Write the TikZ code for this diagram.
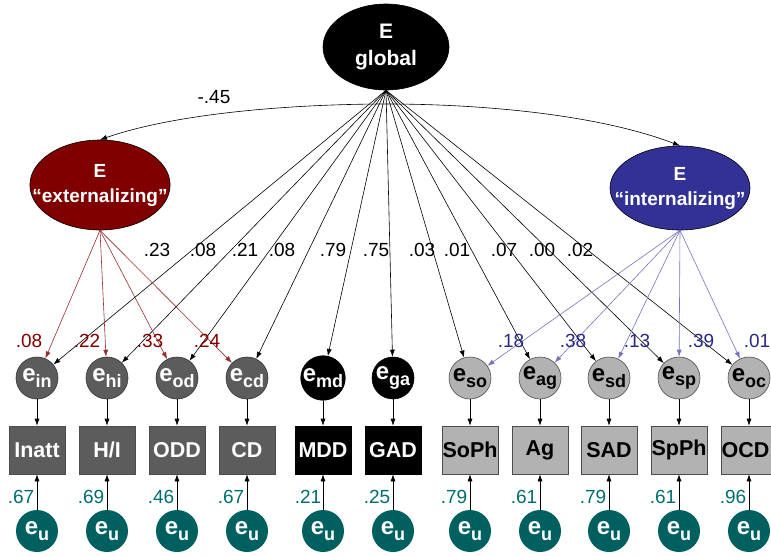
\documentclass[tikz,border=0pt]{standalone}
\usepackage{fontspec}
\setmainfont{Liberation Sans}
\usetikzlibrary{arrows.meta,shapes.geometric}

\definecolor{extred}{RGB}{128,0,0}
\definecolor{extline}{RGB}{150,45,45}
\definecolor{intblue}{RGB}{50,50,150}
\definecolor{intline}{RGB}{115,115,190}
\definecolor{intlbl}{RGB}{40,40,130}
\definecolor{dgray}{RGB}{92,92,92}
\definecolor{lgray}{RGB}{178,178,178}
\definecolor{tealu}{RGB}{0,96,96}
\definecolor{teallbl}{RGB}{0,110,110}

\newcommand{\errsub}[1]{\fontsize{24}{24}\selectfont\bfseries e\raisebox{-6pt}{\fontsize{18}{18}\selectfont #1}}

\begin{document}
\begin{tikzpicture}[x=1pt,y=-1pt,
    lat/.style={ellipse,draw=black,line width=0.6pt,text=white,align=center,inner sep=0pt},
    res/.style={circle,minimum size=42pt,inner sep=0pt,line width=0.6pt},
    ind/.style={rectangle,minimum width=56pt,minimum height=48pt,inner sep=0pt,line width=0.6pt,font=\fontsize{21.5}{21.5}\selectfont\bfseries},
    uniq/.style={circle,fill=tealu,minimum size=42pt,inner sep=0pt,text=white},
    arr/.style={-{Latex[length=7pt,width=5pt]},line width=0.6pt},
    lbl/.style={font=\fontsize{19}{19}\selectfont,inner sep=0pt}]
        \useasboundingbox (0,0) rectangle (771,555);

        % Fattori
        \node[lat,fill=black,minimum width=126pt,minimum height=86pt,font=\fontsize{21}{27}\selectfont\bfseries] (glob) at (386,47) {E\\global};
        \node[lat,fill=extred,minimum width=140pt,minimum height=90pt,inner xsep=-18pt,font=\fontsize{19}{25}\selectfont\bfseries] (ext) at (100,185) {E\\“externalizing”};
        \node[lat,fill=intblue,minimum width=140pt,minimum height=84pt,inner xsep=-18pt,font=\fontsize{19}{25}\selectfont\bfseries] (int) at (680,188) {E\\“internalizing”};

        % Residui
        \node[res,fill=dgray,draw=black!80,text=white] (ein) at (37,378) {\errsub{in}};
        \node[res,fill=dgray,draw=black!80,text=white] (ehi) at (107,378) {\errsub{hi}};
        \node[res,fill=dgray,draw=black!80,text=white] (eod) at (177,378) {\errsub{od}};
        \node[res,fill=dgray,draw=black!80,text=white] (ecd) at (247,378) {\errsub{cd}};
        \node[res,fill=black,draw=black,text=white] (emd) at (323,378) {\errsub{md}};
        \node[res,fill=black,draw=black,text=white] (ega) at (393,378) {\errsub{ga}};
        \node[res,fill=lgray,draw=black!70,text=black] (eso) at (470,378) {\errsub{so}};
        \node[res,fill=lgray,draw=black!70,text=black] (eag) at (540,378) {\errsub{ag}};
        \node[res,fill=lgray,draw=black!70,text=black] (esd) at (609,378) {\errsub{sd}};
        \node[res,fill=lgray,draw=black!70,text=black] (esp) at (679,378) {\errsub{sp}};
        \node[res,fill=lgray,draw=black!70,text=black] (eoc) at (749,378) {\errsub{oc}};

        % Indicatori
        \node[ind,fill=dgray,draw=black!70,text=white] (binatt) at (37,450) {Inatt};
        \node[ind,fill=dgray,draw=black!70,text=white] (bhi) at (107,450) {H/I};
        \node[ind,fill=dgray,draw=black!70,text=white] (bodd) at (177,450) {ODD};
        \node[ind,fill=dgray,draw=black!70,text=white] (bcd) at (247,450) {CD};
        \node[ind,fill=black,draw=black,text=white] (bmdd) at (323,450) {MDD};
        \node[ind,fill=black,draw=black,text=white] (bgad) at (393,450) {GAD};
        \node[ind,fill=lgray,draw=black!70,text=black] (bsoph) at (470,450) {SoPh};
        \node[ind,fill=lgray,draw=black!70,text=black] (bag) at (540,450) {Ag};
        \node[ind,fill=lgray,draw=black!70,text=black] (bsad) at (609,450) {SAD};
        \node[ind,fill=lgray,draw=black!70,text=black] (bspph) at (679,450) {SpPh};
        \node[ind,fill=lgray,draw=black!70,text=black] (bocd) at (749,450) {\hspace*{-7pt}OCD};

        % Unicita
        \node[uniq] (uinatt) at (37,531) {\errsub{u}};
        \node[uniq] (uhi) at (107,531) {\errsub{u}};
        \node[uniq] (uodd) at (177,531) {\errsub{u}};
        \node[uniq] (ucd) at (247,531) {\errsub{u}};
        \node[uniq] (umdd) at (323,531) {\errsub{u}};
        \node[uniq] (ugad) at (393,531) {\errsub{u}};
        \node[uniq] (usoph) at (470,531) {\errsub{u}};
        \node[uniq] (uag) at (540,531) {\errsub{u}};
        \node[uniq] (usad) at (609,531) {\errsub{u}};
        \node[uniq] (uspph) at (679,531) {\errsub{u}};
        \node[uniq] (uocd) at (749,531) {\errsub{u}};

        % Covarianza
        \coordinate (cov) at (387,104);
        \draw[arr] (cov) .. controls (300,104) and (180,112) .. (ext.north);
        \draw[arr] (cov) .. controls (474,104) and (594,113) .. (int.north);
        \node[lbl] (lcov) at (214,97) {-.45};

        % Carichi globali
        \draw[arr] (glob.south) -- (ein);
        \draw[arr] (glob.south) -- (ehi);
        \draw[arr] (glob.south) -- (eod);
        \draw[arr] (glob.south) -- (ecd);
        \draw[arr] (glob.south) -- (emd);
        \draw[arr] (glob.south) -- (ega);
        \draw[arr] (glob.south) -- (eso);
        \draw[arr] (glob.south) -- (eag);
        \draw[arr] (glob.south) -- (esd);
        \draw[arr] (glob.south) -- (esp);
        \draw[arr] (glob.south) -- (eoc);
        \node[lbl] (gin) at (157,250) {.23};
        \node[lbl] (ghi) at (203,250) {.08};
        \node[lbl] (god) at (245,250) {.21};
        \node[lbl] (gcd) at (282,250) {.08};
        \node[lbl] (gmd) at (333,250) {.79};
        \node[lbl] (gga) at (376,250) {.75};
        \node[lbl] (gso) at (422,250) {.03};
        \node[lbl] (gag) at (457,250) {.01};
        \node[lbl] (gsd) at (504,250) {.07};
        \node[lbl] (gsp) at (542,250) {.00};
        \node[lbl] (goc) at (580,250) {.02};

        % Carichi externalizing
        \draw[arr,extline] (ext.south) -- (ein);
        \draw[arr,extline] (ext.south) -- (ehi);
        \draw[arr,extline] (ext.south) -- (eod);
        \draw[arr,extline] (ext.south) -- (ecd);
        \node[lbl,text=extred] (xin) at (29,341) {.08};
        \node[lbl,text=extred] (xhi) at (87,341) {.22};
        \node[lbl,text=extred] (xod) at (150,341) {.33};
        \node[lbl,text=extred] (xcd) at (207,341) {.24};

        % Carichi internalizing
        \draw[arr,intline] (int.south) -- (eso);
        \draw[arr,intline] (int.south) -- (eag);
        \draw[arr,intline] (int.south) -- (esd);
        \draw[arr,intline] (int.south) -- (esp);
        \draw[arr,intline] (int.south) -- (eoc);
        \node[lbl,text=intlbl] (iso) at (511,341) {.18};
        \node[lbl,text=intlbl] (iag) at (573,341) {.38};
        \node[lbl,text=intlbl] (isd) at (637,341) {.13};
        \node[lbl,text=intlbl] (isp) at (701,341) {.39};
        \node[lbl,text=intlbl] (ioc) at (757,341) {.01};

        % Residui -> indicatori
        \draw[arr] (ein) -- (binatt);
        \draw[arr] (ehi) -- (bhi);
        \draw[arr] (eod) -- (bodd);
        \draw[arr] (ecd) -- (bcd);
        \draw[arr] (emd) -- (bmdd);
        \draw[arr] (ega) -- (bgad);
        \draw[arr] (eso) -- (bsoph);
        \draw[arr] (eag) -- (bag);
        \draw[arr] (esd) -- (bsad);
        \draw[arr] (esp) -- (bspph);
        \draw[arr] (eoc) -- (bocd);

        % Unicita -> indicatori
        \draw[arr] (uinatt) -- (binatt);
        \draw[arr] (uhi) -- (bhi);
        \draw[arr] (uodd) -- (bodd);
        \draw[arr] (ucd) -- (bcd);
        \draw[arr] (umdd) -- (bmdd);
        \draw[arr] (ugad) -- (bgad);
        \draw[arr] (usoph) -- (bsoph);
        \draw[arr] (uag) -- (bag);
        \draw[arr] (usad) -- (bsad);
        \draw[arr] (uspph) -- (bspph);
        \draw[arr] (uocd) -- (bocd);
        \node[lbl,text=teallbl] (uuinatt) at (21,497) {.67};
        \node[lbl,text=teallbl] (uuhi) at (91,497) {.69};
        \node[lbl,text=teallbl] (uuodd) at (161,497) {.46};
        \node[lbl,text=teallbl] (uucd) at (231,497) {.67};
        \node[lbl,text=teallbl] (uumdd) at (308,497) {.21};
        \node[lbl,text=teallbl] (uugad) at (377,497) {.25};
        \node[lbl,text=teallbl] (uusoph) at (454,497) {.79};
        \node[lbl,text=teallbl] (uuag) at (524,497) {.61};
        \node[lbl,text=teallbl] (uusad) at (593,497) {.79};
        \node[lbl,text=teallbl] (uuspph) at (663,497) {.61};
        \node[lbl,text=teallbl] (uuocd) at (733,497) {.96};
\end{tikzpicture}
\end{document}
